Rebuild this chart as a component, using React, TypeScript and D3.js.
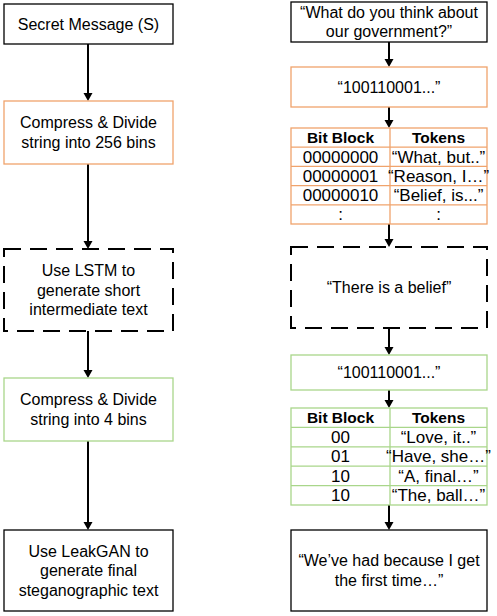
import React from "react";
import * as d3 from "d3";

const ORANGE = "#f0a36c";
const GREEN = "#a9d68a";

const leftBoxes = [
  { lines: ["Secret Message (S)"], y0: 4, y1: 44, stroke: "#000", dash: false },
  { lines: ["Compress & Divide", "string into 256 bins"], y0: 101, y1: 164, stroke: ORANGE, dash: false },
  { lines: ["Use LSTM to", "generate short", "intermediate text"], y0: 249, y1: 331, stroke: "#000", dash: true },
  { lines: ["Compress & Divide", "string into 4 bins"], y0: 378, y1: 441, stroke: GREEN, dash: false },
  { lines: ["Use LeakGAN to", "generate final", "steganographic text"], y0: 530, y1: 611, stroke: "#000", dash: false },
];

const rightBoxes = [
  { lines: ["\u201cWhat do you think about", "our government?\u201d"], y0: 2, y1: 42, stroke: "#000", dash: false },
  { lines: ["\u201c100110001...\u201d"], y0: 67, y1: 107, stroke: ORANGE, dash: false },
  { lines: ["\u201cThere is a belief\u201d"], y0: 247, y1: 328, stroke: "#000", dash: true },
  { lines: ["\u201c100110001...\u201d"], y0: 355, y1: 390, stroke: GREEN, dash: false },
  { lines: ["\u201cWe\u2019ve had because I get", "the first time\u2026\u201d"], y0: 530, y1: 611, stroke: "#000", dash: false },
];

const table1Blocks = ["00000000", "00000001", "00000010", ":"];
const table1Tokens = ["\u201cWhat, but..\u201d", "\u201cReason, I\u2026\u201d", "\u201cBelief, is...\u201d", ":"];
const table2Blocks = ["00", "01", "10", "10"];
const table2Tokens = ["\u201cLove, it..\u201d", "\u201cHave, she\u2026\u201d", "\u201cA, final\u2026\u201d", "\u201cThe, ball\u2026\u201d"];

const font = "Liberation Sans, Arial, sans-serif";

function Box({ x0, x1, b }: { x0: number; x1: number; b: any }) {
  const cx = (x0 + x1) / 2;
  const cy = (b.y0 + b.y1) / 2;
  const lh = 19.5;
  return (
    <g>
      <rect x={x0} y={b.y0} width={x1 - x0} height={b.y1 - b.y0} fill="#fff"
        stroke={b.stroke} strokeWidth={b.dash ? 2 : 1.3}
        strokeDasharray={b.dash ? "17 9" : undefined} />
      {b.lines.map((l: string, i: number) => (
        <text key={i} x={cx} y={cy + (i - (b.lines.length - 1) / 2) * lh} dy="0.35em"
          textAnchor="middle" fontSize={16} fontFamily={font}>{l}</text>
      ))}
    </g>
  );
}

function Table({ y0, y1, blocks, tokens, stroke }: { y0: number; y1: number; blocks: string[]; tokens: string[]; stroke: string }) {
  const x0 = 291, x1 = 487, xm = 390;
  const rows = ["h", ...blocks.map((_, i) => String(i))];
  const y = d3.scaleBand().domain(rows).range([y0, y1]);
  return (
    <g fontFamily={font} fontSize={17}>
      <rect x={x0} y={y0} width={x1 - x0} height={y1 - y0} fill="#fff" stroke={stroke} strokeWidth={1.3} />
      {rows.slice(1).map((r) => (
        <line key={r} x1={x0} x2={x1} y1={y(r)!} y2={y(r)!} stroke={stroke} strokeWidth={1.3} />
      ))}
      <line x1={xm} x2={xm} y1={y0} y2={y1} stroke={stroke} strokeWidth={1.3} />
      <text x={(x0 + xm) / 2} y={y("h")! + y.bandwidth() / 2} dy="0.35em" textAnchor="middle" fontWeight="bold" fontSize={15.5}>Bit Block</text>
      <text x={(xm + x1) / 2} y={y("h")! + y.bandwidth() / 2} dy="0.35em" textAnchor="middle" fontWeight="bold" fontSize={15.5}>Tokens</text>
      {blocks.map((b, i) => (
        <g key={i}>
          <text x={(x0 + xm) / 2} y={y(String(i))! + y.bandwidth() / 2} dy="0.35em" textAnchor="middle">{b}</text>
          <text x={(xm + x1) / 2} y={y(String(i))! + y.bandwidth() / 2} dy="0.35em" textAnchor="middle">{tokens[i]}</text>
        </g>
      ))}
    </g>
  );
}

function Arrow({ x, y0, y1 }: { x: number; y0: number; y1: number }) {
  return (
    <g>
      <line x1={x} x2={x} y1={y0} y2={y1 - 6} stroke="#000" strokeWidth={2} />
      <path d={`M${x - 4.5},${y1 - 8} L${x + 4.5},${y1 - 8} L${x},${y1} Z`} fill="#000" />
    </g>
  );
}

export default function App() {
  const lx0 = 4, lx1 = 173, lc = 88;
  const rc = 389;
  const rightSpans: [number, number][] = [[42, 67], [107, 128], [224, 247], [328, 355], [390, 408], [505, 530]];
  return (
    <svg width={497} height={616} style={{ position: "absolute", left: 0, top: 0, background: "#fff" }}>
      {leftBoxes.slice(0, -1).map((b, i) => (
        <Arrow key={i} x={lc} y0={b.y1} y1={leftBoxes[i + 1].y0} />
      ))}
      {rightSpans.map(([a, b], i) => (
        <Arrow key={i} x={rc} y0={a} y1={b} />
      ))}
      {leftBoxes.map((b, i) => <Box key={i} x0={lx0} x1={lx1} b={b} />)}
      {rightBoxes.map((b, i) => <Box key={i} x0={291} x1={487} b={b} />)}
      <Table y0={128} y1={224} blocks={table1Blocks} tokens={table1Tokens} stroke={ORANGE} />
      <Table y0={408} y1={505} blocks={table2Blocks} tokens={table2Tokens} stroke={GREEN} />
    </svg>
  );
}
